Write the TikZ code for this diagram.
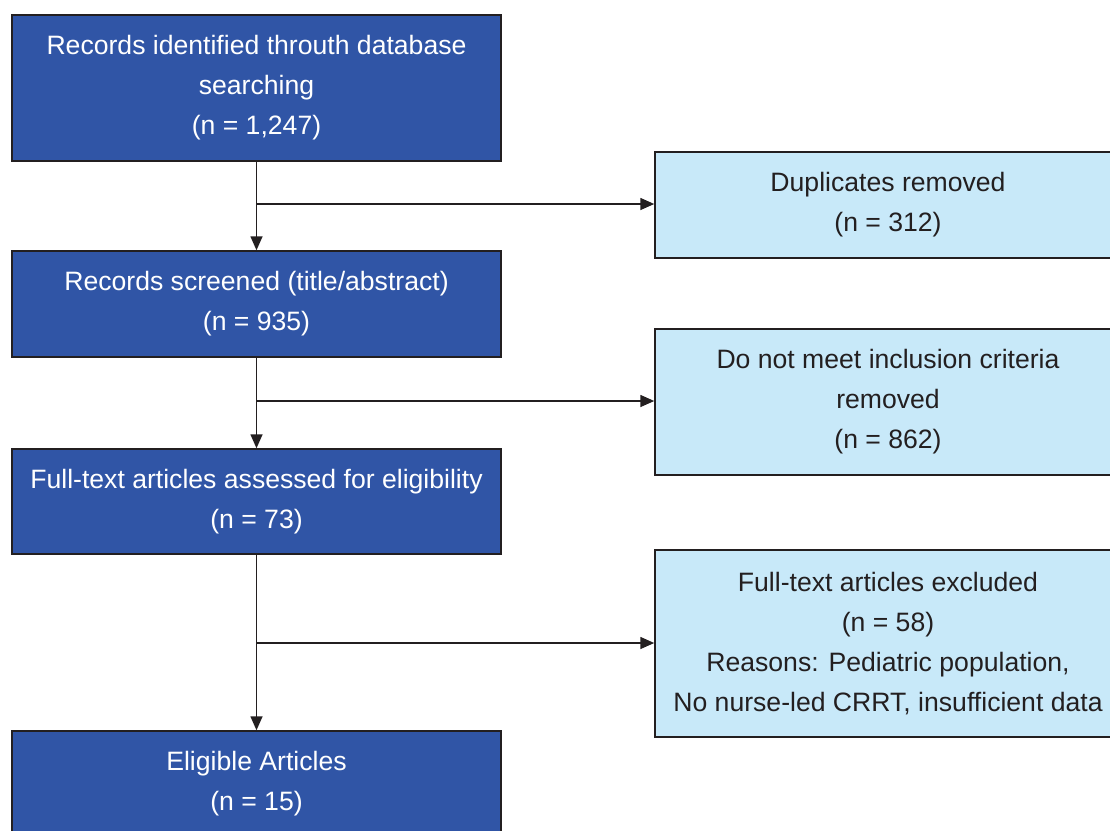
\documentclass[tikz,border=0pt]{standalone}
\usepackage{fontspec}
\setmainfont{Liberation Sans}
\usetikzlibrary{arrows.meta}

\definecolor{stageblue}{HTML}{3055A6}
\definecolor{dropblue}{HTML}{C8E9F9}
\definecolor{edgegray}{HTML}{231F20}

\begin{document}
\begin{tikzpicture}[x=0.5pt, y=-0.5pt, font=\fontsize{13.3}{20}\selectfont,
    stage/.style={draw=edgegray, line width=0.75pt, fill=stageblue, text=white, align=center, inner sep=0pt, minimum width=244.5pt},
    dropbox/.style={draw=edgegray, line width=0.75pt, fill=dropblue, text=edgegray, align=center, inner sep=0pt, minimum width=233pt},
    flow/.style={draw=edgegray, line width=0.8pt, -{Triangle[length=7pt, width=6pt]}}]
      \useasboundingbox (0,0) rectangle (1110,831);
      % main column
      \node[stage, minimum height=73pt] (1) at (256.5,88) {Records identified throuth database\\searching\\(n = 1,247)};
      \node[stage, minimum height=53pt] (2) at (256.5,304) {Records screened (title/abstract)\\(n = 935)};
      \node[stage, minimum height=52.5pt] (3) at (256.5,501.5) {Full-text articles assessed for eligibility\\(n = 73)};
      \node[stage, minimum height=53pt] (4) at (256.5,784) {Eligible Articles\\(n = 15)};
      % removed records
      \node[dropbox, minimum height=53pt] (d1) at (888,205) {Duplicates removed\\(n = 312)};
      \node[dropbox, minimum height=73pt] (d2) at (888,402) {Do not meet inclusion criteria\\removed\\(n = 862)};
      \node[dropbox, minimum height=93.5pt] (d3) at (888,643.5) {Full-text articles excluded\\(n = 58)\\Reasons: Pediatric population,\\No nurse-led CRRT, insufficient data};
      % connectors
      \draw[flow] (1) -- (2);
      \draw[flow] (2) -- (3);
      \draw[flow] (3) -- (4);
      \draw[flow] ([yshift=0.5pt]1 |- d1) -- ([yshift=0.5pt]d1.west);
      \draw[flow] ([yshift=0.5pt]2 |- d2) -- ([yshift=0.5pt]d2.west);
      \draw[flow] ([yshift=0.25pt]3 |- d3) -- ([yshift=0.25pt]d3.west);
    \end{tikzpicture}
\end{document}
